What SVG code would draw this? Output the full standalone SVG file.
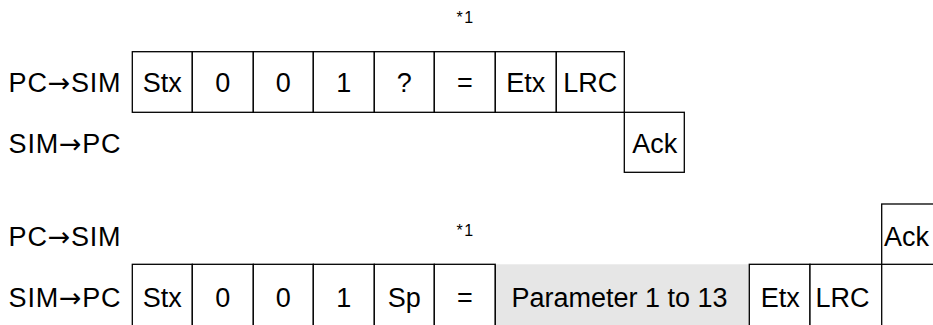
<svg xmlns="http://www.w3.org/2000/svg" width="933" height="325" viewBox="0 0 933 325">
<style>
.c{fill:#fff;stroke:#000;stroke-width:1.3}
.g{fill:#e6e6e6;stroke:none}
text{font-family:"Liberation Sans",Arial,sans-serif;font-size:27px;fill:#000}
.m{text-anchor:middle}
.n{font-size:16px;letter-spacing:1.5px}
.a{font-family:"DejaVu Sans",sans-serif}
</style>
<rect width="933" height="325" fill="#fff"/>
<g id="labels">
<text x="8.6" y="92" textLength="112" lengthAdjust="spacing">PC<tspan class="a">→</tspan>SIM</text>
<text x="8.6" y="153" textLength="112" lengthAdjust="spacing">SIM<tspan class="a">→</tspan>PC</text>
<text x="8.6" y="245.5" textLength="112" lengthAdjust="spacing">PC<tspan class="a">→</tspan>SIM</text>
<text x="8.6" y="306.5" textLength="112" lengthAdjust="spacing">SIM<tspan class="a">→</tspan>PC</text>
<text class="n" x="456.5" y="23">*1</text>
<text class="n" x="456.5" y="235.7">*1</text>
</g>
<g id="request">
<g id="r1-stx"><rect class="c" x="132.3" y="51.7" width="60" height="60.6"/><text class="m" x="162.3" y="92">Stx</text></g>
<g id="r1-0a"><rect class="c" x="192.3" y="51.7" width="61" height="60.6"/><text class="m" x="222.8" y="92">0</text></g>
<g id="r1-0b"><rect class="c" x="253.3" y="51.7" width="60" height="60.6"/><text class="m" x="283.3" y="92">0</text></g>
<g id="r1-1"><rect class="c" x="313.3" y="51.7" width="61" height="60.6"/><text class="m" x="343.8" y="92">1</text></g>
<g id="r1-q"><rect class="c" x="374.3" y="51.7" width="60" height="60.6"/><text class="m" x="404.3" y="92">?</text></g>
<g id="r1-eq"><rect class="c" x="434.3" y="51.7" width="61" height="60.6"/><text class="m" x="464.8" y="92">=</text></g>
<g id="r1-etx"><rect class="c" x="495.3" y="51.7" width="61" height="60.6"/><text class="m" x="525.8" y="92">Etx</text></g>
<g id="r1-lrc"><rect class="c" x="556.3" y="51.7" width="68" height="60.6"/><text class="m" x="590.3" y="92">LRC</text></g>
<g id="r1-ack"><rect class="c" x="624.3" y="112.3" width="60" height="60"/><text class="m" x="654.8" y="152.5">Ack</text></g>
</g>
<g id="response">
<g id="r2-stx"><rect class="c" x="132.3" y="264.3" width="60" height="80"/><text class="m" x="162.3" y="306.5">Stx</text></g>
<g id="r2-0a"><rect class="c" x="192.3" y="264.3" width="61" height="80"/><text class="m" x="222.8" y="306.5">0</text></g>
<g id="r2-0b"><rect class="c" x="253.3" y="264.3" width="60" height="80"/><text class="m" x="283.3" y="306.5">0</text></g>
<g id="r2-1"><rect class="c" x="313.3" y="264.3" width="61" height="80"/><text class="m" x="343.8" y="306.5">1</text></g>
<g id="r2-sp"><rect class="c" x="374.3" y="264.3" width="60" height="80"/><text class="m" x="404.3" y="306.5">Sp</text></g>
<g id="r2-eq"><rect class="c" x="434.3" y="264.3" width="61" height="80"/><text class="m" x="464.8" y="306.5">=</text></g>
<g id="r2-param"><rect class="g" x="495.3" y="264.3" width="254" height="80"/><line x1="495.3" y1="264.3" x2="495.3" y2="330" stroke="#000" stroke-width="1.3"/><text class="m" x="619.5" y="306.5">Parameter 1 to 13</text></g>
<g id="r2-etx"><rect class="c" x="749.3" y="264.3" width="60.7" height="80"/><text class="m" x="780.3" y="306.5">Etx</text></g>
<g id="r2-lrc"><rect class="c" x="810" y="264.3" width="71.7" height="80"/><text class="m" x="842.5" y="306.5">LRC</text></g>
<g id="r2-ack"><rect class="c" x="881.7" y="204" width="80" height="60.3"/><text x="884" y="245.5">Ack</text></g>
</g>
</svg>
